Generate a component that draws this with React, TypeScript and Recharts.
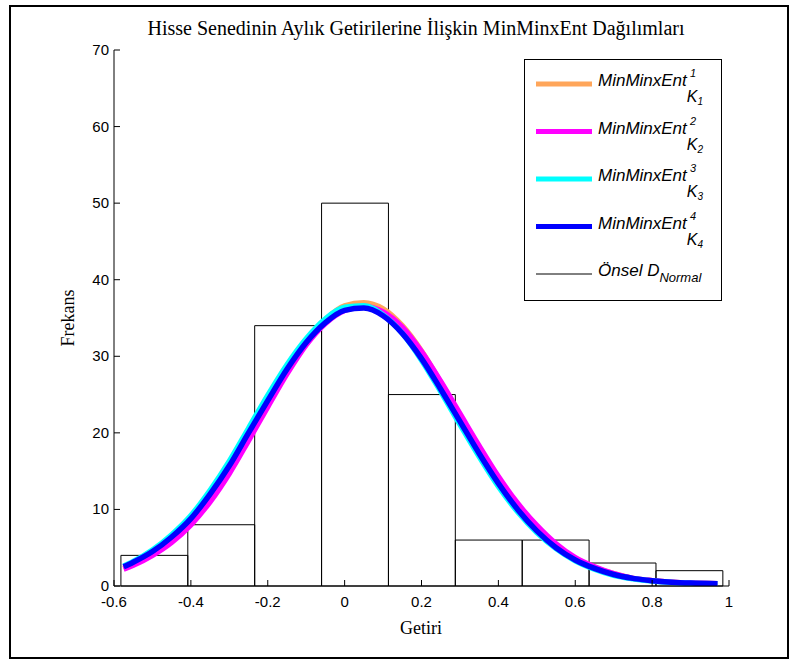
import React from 'react';
import { ComposedChart, Line, XAxis, YAxis, ReferenceArea } from 'recharts';

// axis ticks
const xTicks = [-0.6, -0.4, -0.2, 0, 0.2, 0.4, 0.6, 0.8, 1];
const yTicks = [0, 10, 20, 30, 40, 50, 60, 70];

// histogram (Önsel D_Normal)
const binEdges = [-0.582, -0.408, -0.234, -0.06, 0.114, 0.288, 0.462, 0.636, 0.81, 0.984];
const binCounts = [4, 8, 34, 50, 25, 6, 6, 3, 2];

// fitted MinMinxEnt curves
const curveX = [-0.575, -0.55, -0.5, -0.45, -0.4, -0.35, -0.3, -0.25, -0.2, -0.15, -0.1, -0.05, 0, 0.05, 0.1, 0.15, 0.2, 0.25, 0.3, 0.35, 0.4, 0.45, 0.5, 0.55, 0.6, 0.65, 0.7, 0.75, 0.8, 0.85, 0.9, 0.97];
const k1 = [2.3, 2.9, 4.2, 6.0, 8.4, 11.5, 15.2, 19.5, 23.9, 28.1, 31.9, 34.8, 36.6, 37.0, 36.2, 34.0, 30.7, 26.6, 22.3, 18.0, 14.0, 10.5, 7.6, 5.3, 3.6, 2.4, 1.6, 1.0, 0.7, 0.5, 0.38, 0.3];
const k2 = [2.2, 2.7, 4.0, 5.7, 8.0, 11.0, 14.7, 19.0, 23.4, 27.7, 31.5, 34.3, 36.0, 36.5, 35.8, 33.8, 30.6, 26.7, 22.5, 18.3, 14.3, 10.8, 7.9, 5.5, 3.7, 2.5, 1.6, 1.0, 0.7, 0.5, 0.38, 0.3];
const k3 = [2.6, 3.2, 4.7, 6.7, 9.2, 12.5, 16.3, 20.6, 24.9, 28.9, 32.3, 34.9, 36.4, 36.6, 35.4, 33.0, 29.5, 25.4, 21.1, 16.9, 13.0, 9.7, 7.0, 4.9, 3.3, 2.2, 1.4, 0.95, 0.65, 0.47, 0.36, 0.3];
const k4 = [2.5, 3.1, 4.5, 6.4, 8.8, 12.0, 15.7, 20.0, 24.2, 28.3, 31.8, 34.4, 36.0, 36.3, 35.3, 33.0, 29.7, 25.7, 21.5, 17.3, 13.4, 10.0, 7.2, 5.0, 3.4, 2.3, 1.5, 1.0, 0.7, 0.5, 0.38, 0.3];

const series = [
  { key: 'k1', n: '1', color: '#FFA65A' },
  { key: 'k2', n: '2', color: '#FF00FF' },
  { key: 'k3', n: '3', color: '#00FFFF' },
  { key: 'k4', n: '4', color: '#0000FF' },
];

const data = curveX.map((x, i) => ({ x, k1: k1[i], k2: k2[i], k3: k3[i], k4: k4[i] }));

const fmt = (v: number) => String(Math.round(v * 10) / 10);
const sans = '"Liberation Sans", Arial, sans-serif';
const serif = '"Liberation Serif", "Times New Roman", serif';
const tickFont = { fontFamily: sans, fontSize: 15, fill: '#000' };

// MATLAB style ticks: pointing inwards, labels outside
const BottomTick = ({ x, y, payload }: any) => (
  <g>
    <line x1={x} x2={x} y1={y} y2={y - 6} stroke="#000" />
    <text x={x} y={y + 21} textAnchor="middle" {...tickFont}>{fmt(payload.value)}</text>
  </g>
);
const TopTick = ({ x, y }: any) => <line x1={x} x2={x} y1={y} y2={y + 6} stroke="#000" />;
const LeftTick = ({ x, y, payload }: any) => (
  <g>
    <line x1={x} x2={x + 6} y1={y} y2={y} stroke="#000" />
    <text x={x - 5} y={y + 5} textAnchor="end" {...tickFont}>{fmt(payload.value)}</text>
  </g>
);
const RightTick = ({ x, y }: any) => <line x1={x} x2={x - 6} y1={y} y2={y} stroke="#000" />;

const legendTop = 59;
const legendRow = 47.5;

const LegendBox = () => (
  <svg width={797} height={660} style={{ position: 'absolute', left: 0, top: 0, pointerEvents: 'none' }}>
    <rect x={524.5} y={legendTop + 0.5} width={197} height={241} fill="#fff" stroke="#000" />
    {series.map((s, i) => {
      const cy = legendTop + 25 + i * legendRow;
      return (
        <g key={s.key}>
          <line x1={536} x2={592} y1={cy} y2={cy} stroke={s.color} strokeWidth={5} />
          <text x={598} y={cy + 2} fontFamily={sans} fontStyle="italic" fontSize={17} fill="#000">
            <tspan>MinMinxEnt</tspan>
            <tspan dx={0} dy={16} fontSize={16}>K</tspan>
            <tspan dy={3} fontSize={10}>{s.n}</tspan>
            <tspan dx={-13} dy={-28} fontSize={11}>{s.n}</tspan>
          </text>
        </g>
      );
    })}
    <line x1={536} x2={592} y1={legendTop + 25 + 4 * legendRow} y2={legendTop + 25 + 4 * legendRow} stroke="#000" strokeWidth={1} />
    <text x={598} y={legendTop + 27 + 4 * legendRow} fontFamily={sans} fontStyle="italic" fontSize={17} fill="#000">
      <tspan>Önsel D</tspan>
      <tspan dy={6} fontSize={13}>Normal</tspan>
    </text>
  </svg>
);

export default function App() {
  return (
    <div style={{ position: 'absolute', left: 0, top: 0, width: 797, height: 660, background: '#fff' }}>
      <div style={{ position: 'absolute', left: 9, top: 5, width: 776, height: 650, border: '2px solid #000' }} />
      <ComposedChart width={797} height={660} data={data} margin={{ top: 50, right: 68, bottom: 54, left: 74 }}>
        <XAxis dataKey="x" type="number" domain={[-0.6, 1]} ticks={xTicks} allowDataOverflow
          height={20} tickSize={0} tickMargin={0} tickLine={false} tick={<BottomTick />}
          axisLine={{ stroke: '#000' }} />
        <XAxis xAxisId="top" orientation="top" dataKey="x" type="number" domain={[-0.6, 1]} ticks={xTicks} allowDataOverflow
          height={0} tickSize={0} tickMargin={0} tickLine={false} tick={<TopTick />} axisLine={{ stroke: '#000' }} />
        <YAxis type="number" domain={[0, 70]} ticks={yTicks} allowDataOverflow width={40}
          tickSize={0} tickMargin={0} tickLine={false} tick={<LeftTick />} axisLine={{ stroke: '#000' }} />
        <YAxis yAxisId="right" orientation="right" type="number" domain={[0, 70]} ticks={yTicks} allowDataOverflow width={0}
          tickSize={0} tickMargin={0} tickLine={false} tick={<RightTick />} axisLine={{ stroke: '#000' }} />
        {binCounts.map((c, i) => (
          <ReferenceArea key={i} x1={binEdges[i]} x2={binEdges[i + 1]} y1={0} y2={c}
            fill="#fff" fillOpacity={0} stroke="#000" strokeWidth={1} ifOverflow="visible" />
        ))}
        {series.map(s => (
          <Line key={s.key} dataKey={s.key} type="monotone" stroke={s.color} strokeWidth={5.5}
            dot={false} activeDot={false} isAnimationActive={false} />
        ))}
      </ComposedChart>
      <svg width={797} height={660} style={{ position: 'absolute', left: 0, top: 0, pointerEvents: 'none' }}>
        <text x={416} y={35} textAnchor="middle" fontFamily={serif} fontSize={20} fill="#000">
          Hisse Senedinin Aylık Getirilerine İlişkin MinMinxEnt Dağılımları
        </text>
        <text x={421} y={634} textAnchor="middle" fontFamily={serif} fontSize={18} fill="#000">Getiri</text>
        <text x={74} y={318} textAnchor="middle" fontFamily={serif} fontSize={18} fill="#000"
          transform="rotate(-90 74 318)">Frekans</text>
      </svg>
      <LegendBox />
    </div>
  );
}
